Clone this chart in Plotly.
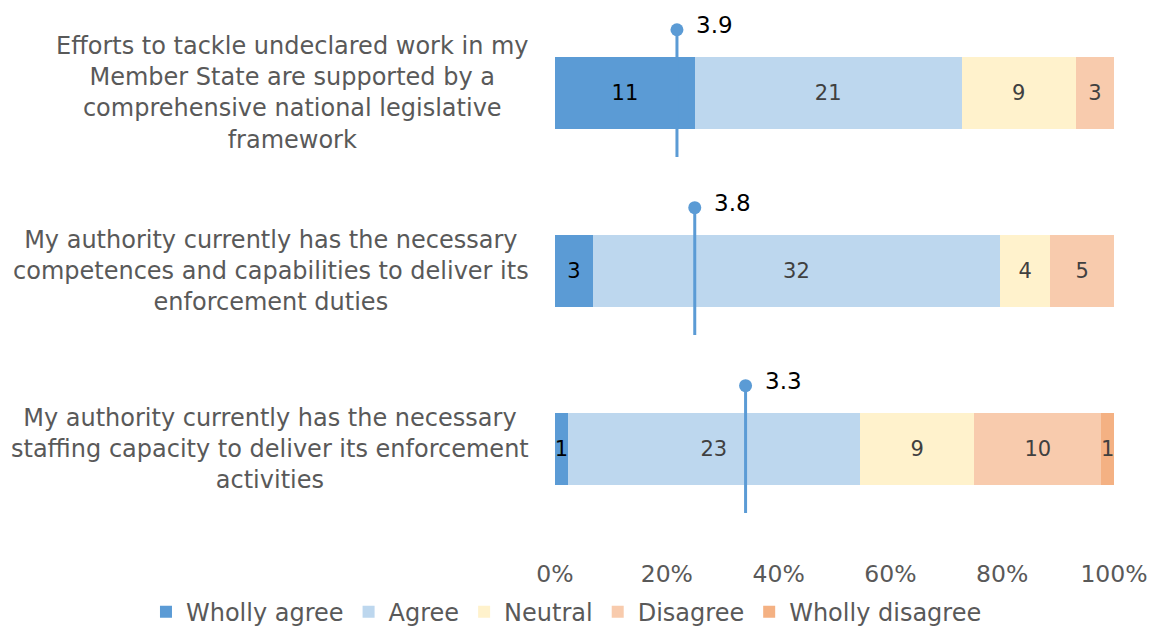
import plotly.graph_objects as go

categories = [
    "Efforts to tackle undeclared work in my<br>Member State are supported by a<br>comprehensive national legislative<br>framework",
    "My authority currently has the necessary<br>competences and capabilities to deliver its<br>enforcement duties",
    "My authority currently has the necessary<br>staffing capacity to deliver its enforcement<br>activities",
]
responses = ["Wholly agree", "Agree", "Neutral", "Disagree", "Wholly disagree"]
scores = [5, 4, 3, 2, 1]
counts = {
    "Wholly agree": [11, 3, 1],
    "Agree": [21, 32, 23],
    "Neutral": [9, 4, 9],
    "Disagree": [3, 5, 10],
    "Wholly disagree": [0, 0, 1],
}
colors = {
    "Wholly agree": "#5B9BD5",
    "Agree": "#BDD7EE",
    "Neutral": "#FFF2CC",
    "Disagree": "#F8CBAD",
    "Wholly disagree": "#F4B183",
}
text_colors = {
    "Wholly agree": "#000000",
    "Agree": "#404040",
    "Neutral": "#404040",
    "Disagree": "#404040",
    "Wholly disagree": "#404040",
}

FONT = "DejaVu Sans"
rows = list(range(len(categories)))
totals = [sum(counts[r][i] for r in responses) for i in rows]

fig = go.Figure()

for r in responses:
    shares = [counts[r][i] / totals[i] for i in rows]
    fig.add_trace(go.Bar(
        name=r,
        orientation="h",
        y=rows,
        x=shares,
        width=0.405,
        marker=dict(color=colors[r], line=dict(width=0)),
        text=[str(v) if v else "" for v in counts[r]],
        textposition="inside",
        insidetextanchor="middle",
        textangle=0,
        textfont=dict(family=FONT, size=21, color=text_colors[r]),
        hoverinfo="skip",
    ))

# Mean agreement score per statement (5 = wholly agree ... 1 = wholly disagree)
means = [sum(s * counts[r][i] for r, s in zip(responses, scores)) / totals[i] for i in rows]
marker_pos = [(5 - m) / 5 for m in means]

for i in rows:
    fig.add_trace(go.Scatter(
        x=[marker_pos[i], marker_pos[i]],
        y=[i - 0.355, i + 0.36],
        mode="lines",
        line=dict(color="#5B9BD5", width=3),
        showlegend=False,
        hoverinfo="skip",
    ))

fig.add_trace(go.Scatter(
    x=marker_pos,
    y=[i - 0.355 for i in rows],
    mode="markers",
    marker=dict(color="#5B9BD5", size=13),
    showlegend=False,
    hoverinfo="skip",
    cliponaxis=False,
))

for i in rows:
    fig.add_annotation(
        x=marker_pos[i], xref="x", xanchor="left", xshift=17,
        y=i - 0.355, yref="y", yanchor="middle", yshift=5,
        text=f"{means[i]:.1f}", showarrow=False,
        font=dict(family=FONT, size=23, color="#000000"),
    )

for i, c in enumerate(categories):
    fig.add_annotation(
        x=-0.043, xref="paper", xanchor="right",
        y=i, yref="y", yanchor="middle",
        text=c, showarrow=False, align="center",
        font=dict(family=FONT, size=24, color="#595959"),
    )

fig.update_layout(
    barmode="stack",
    width=1156, height=626,
    margin=dict(l=555, r=42, t=0, b=71, autoexpand=False),
    paper_bgcolor="white",
    plot_bgcolor="white",
    font=dict(family=FONT, size=23, color="#595959"),
    uniformtext=dict(minsize=21, mode="show"),
    xaxis=dict(
        range=[0, 1],
        tickvals=[0, 0.2, 0.4, 0.6, 0.8, 1.0],
        ticktext=["0%", "20%", "40%", "60%", "80%", "100%"],
        showgrid=False, zeroline=False, showline=False,
        tickfont=dict(family=FONT, size=23.5, color="#595959"),
        ticks="", ticklabelstandoff=2,
        fixedrange=True,
    ),
    yaxis=dict(
        range=[2.596, -0.522],
        showticklabels=False, showgrid=False, zeroline=False, showline=False,
        fixedrange=True,
    ),
    legend=dict(
        orientation="h",
        xref="paper", x=-0.7317, xanchor="left",
        yref="paper", y=-0.0625, yanchor="top",
        font=dict(family=FONT, size=24, color="#595959"),
        itemwidth=30,
        traceorder="normal",
    ),
    showlegend=True,
)

fig.write_html("out.html")
